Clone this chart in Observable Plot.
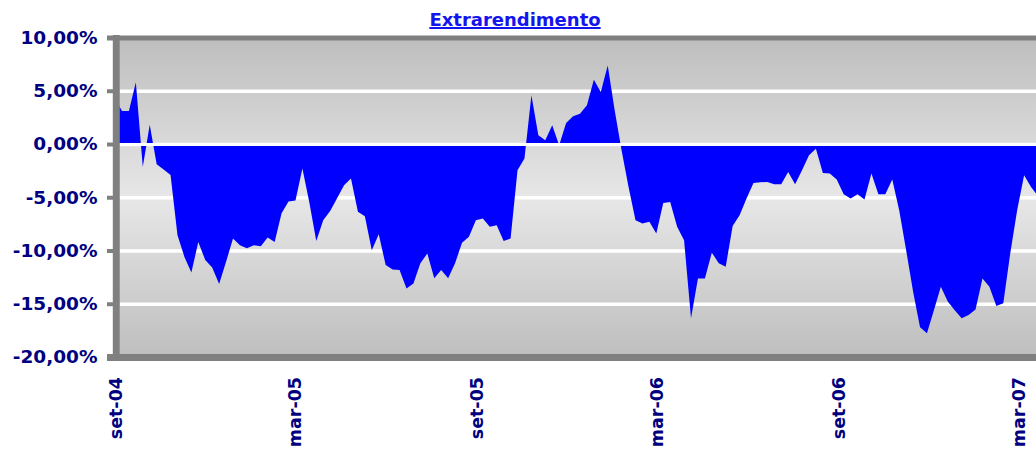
<!DOCTYPE html>
<html>
<head>
<meta charset="utf-8">
<script src="https://cdn.jsdelivr.net/npm/d3@7"></script>
<script src="https://cdn.jsdelivr.net/npm/@observablehq/plot@0.6"></script>
<style>
  html, body { margin: 0; padding: 0; background: #ffffff; }
  #title {
    position: relative; z-index: 1;
    width: 1036px; height: 20px; box-sizing: border-box; overflow: visible;
    padding-top: 10px; padding-right: 6px; line-height: 20px;
    text-align: center; font-family: "DejaVu Sans", sans-serif;
    font-weight: bold; font-size: 18px; color: #1414ee;
    text-decoration: underline; text-decoration-thickness: 2px;
  }
  #chart svg { display: block; background: transparent; }
</style>
</head>
<body>
<div id="title">Extrarendimento</div>
<div id="chart"></div>
<script>
// ---- Data (weekly observations, % excess return) ----
const startDate = "2004-08-30";
const values = [
  4.3, 3.1, 3.1, 5.8, -2.15, 1.8, -1.9, -2.4, -2.9, -8.56,
  -10.6, -12.06, -9.2, -10.9, -11.6, -13.15, -11.06, -8.87, -9.5, -9.8,
  -9.5, -9.6, -8.78, -9.2, -6.5, -5.4, -5.3, -2.3, -5.5, -9.1,
  -7.15, -6.3, -5.1, -3.87, -3.25, -6.37, -6.78, -9.97, -8.47, -11.37,
  -11.78, -11.84, -13.56, -13.1, -11.2, -10.28, -12.6, -11.84, -12.6, -11.2,
  -9.28, -8.7, -7.15, -7.0, -7.78, -7.62, -9.1, -8.87, -2.47, -1.37,
  4.57, 0.82, 0.35, 1.75, -0.12, 1.97, 2.6, 2.85, 3.63, 6.04,
  4.88, 7.38, 3.16, -0.6, -4.03, -7.15, -7.46, -7.3, -8.4, -5.53,
  -5.44, -7.78, -9.03, -16.37, -12.62, -12.62, -10.2, -11.2, -11.53, -7.7,
  -6.68, -5.12, -3.66, -3.6, -3.56, -3.78, -3.78, -2.62, -3.78, -2.47,
  -1.06, -0.44, -2.72, -2.78, -3.34, -4.72, -5.12, -4.72, -5.22, -2.78,
  -4.72, -4.72, -3.34, -6.22, -9.97, -13.85, -17.2, -17.78, -15.6, -13.4,
  -14.8, -15.6, -16.37, -16.06, -15.53, -12.62, -13.4, -15.2, -14.96, -10.28,
  -6.22, -2.93, -4.03, -4.9
];
const xDomain = ["2004-09-03", "2007-03-17"];
const tickDates = ["2004-09-01", "2005-03-01", "2005-09-01", "2006-03-01", "2006-09-01", "2007-03-01"];
const tickLabels = ["set-04", "mar-05", "set-05", "mar-06", "set-06", "mar-07"];
const yTicks = [10, 5, 0, -5, -10, -15, -20];
const gridValues = [5, 0, -5, -10, -15];
const innerTicks = [5, 0, -5, -10, -15];

const start = new Date(startDate);
const data = values.map((v, i) => ({ date: d3.utcDay.offset(start, 7 * i), value: v }));
const fmt = d => d.toFixed(2).replace(".", ",") + "%";

const gray = "#808080";
const navy = "#000080";

const defsMark = () => {
  const defs = d3.create("svg:defs");
  const g = defs.append("linearGradient")
    .attr("id", "bgGrad").attr("x1", 0).attr("y1", 0).attr("x2", 0).attr("y2", 1);
  g.append("stop").attr("offset", "0%").attr("stop-color", "#bebebe");
  g.append("stop").attr("offset", "50%").attr("stop-color", "#e7e7e7");
  g.append("stop").attr("offset", "100%").attr("stop-color", "#bebebe");
  return defs.node();
};

const chart = Plot.plot({
  width: 1036,
  height: 430,
  marginLeft: 119,
  marginRight: 0,
  marginTop: 17.5,
  marginBottom: 93,
  style: { background: "transparent" },
  x: { type: "utc", domain: xDomain.map(d => new Date(d)), axis: null },
  y: { domain: [-20, 10], axis: null },
  marks: [
    defsMark,
    Plot.frame({ fill: "url(#bgGrad)", stroke: null }),
    Plot.ruleY(gridValues, { stroke: "#ffffff", strokeWidth: 3.5 }),
    Plot.areaY(data, { x: "date", y: "value", fill: "#0000ff", curve: "linear" }),
    Plot.ruleY([0], { stroke: "#ffffff", strokeWidth: 3 }),
    // top and bottom borders (with their tick stubs)
    Plot.ruleY([10], { stroke: gray, strokeWidth: 5, insetLeft: -12 }),
    Plot.ruleY([-20], { stroke: gray, strokeWidth: 7, insetLeft: -12 }),
    // y tick stubs
    Plot.ruleY(innerTicks, { stroke: gray, strokeWidth: 4, insetLeft: -12, insetRight: 923 }),
    // left axis line
    Plot.ruleX([new Date(xDomain[0])], { stroke: gray, strokeWidth: 7, dx: -3.2, insetTop: -2.5, insetBottom: -3.5 }),
    // y tick labels
    Plot.text(yTicks, {
      y: d => d, text: fmt, frameAnchor: "left", textAnchor: "end", dx: -22,
      fill: navy, fontWeight: "bold", fontSize: 18.5, fontFamily: "DejaVu Sans"
    }),
    // x tick labels
    Plot.text(tickDates, {
      x: d => new Date(d), text: (d, i) => tickLabels[i], frameAnchor: "bottom",
      rotate: -90, textAnchor: "end", dy: 19.5, dx: 4,
      fill: navy, fontWeight: "bold", fontSize: 17.5, fontFamily: "DejaVu Sans"
    })
  ]
});
document.getElementById("chart").appendChild(chart);
</script>
</body>
</html>
